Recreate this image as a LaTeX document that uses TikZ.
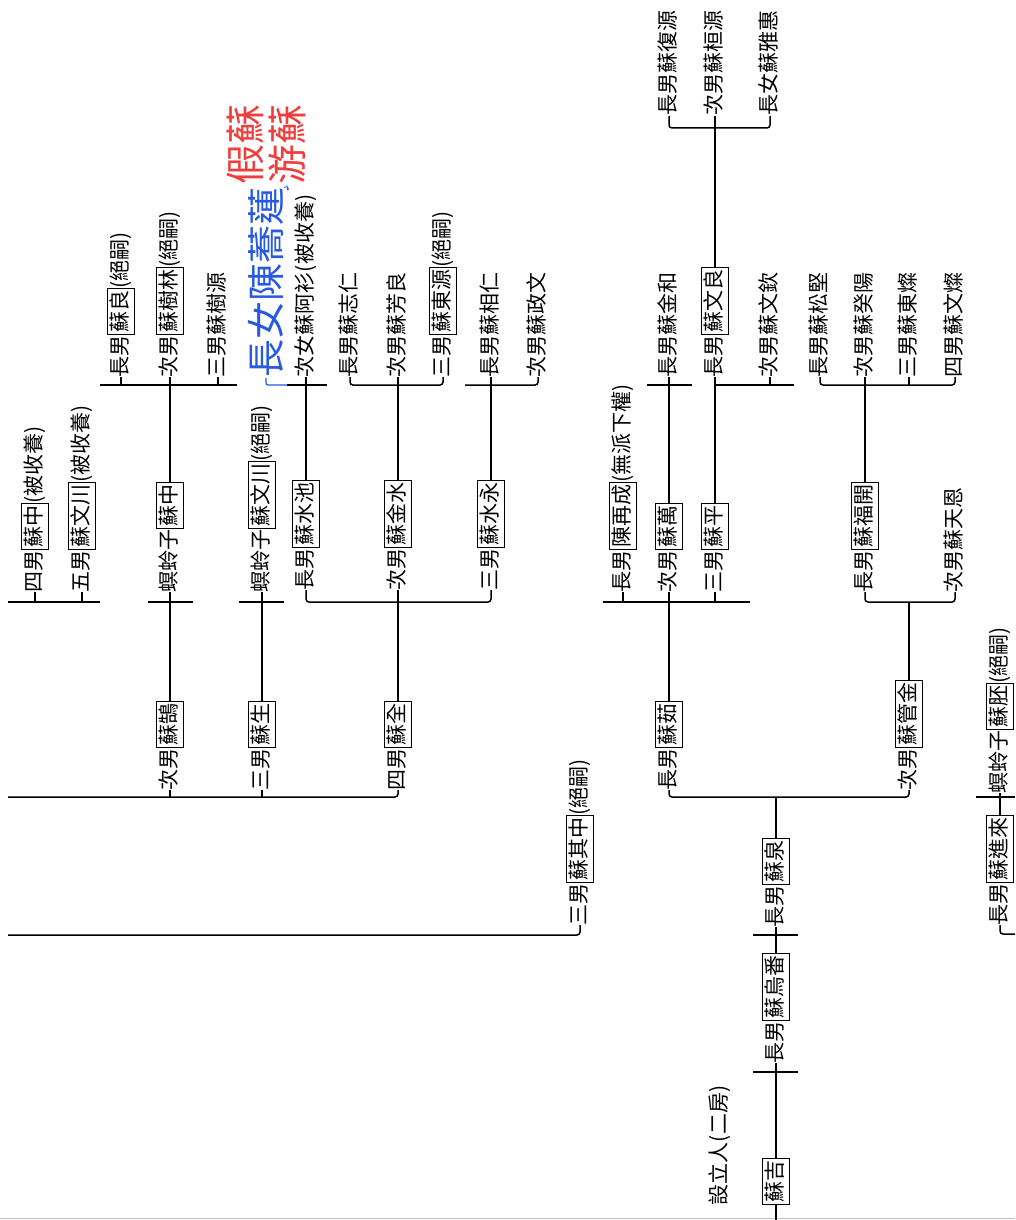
\documentclass[tikz,border=0pt]{standalone}
\usepackage{fontspec}
\newfontfamily\cjk{Noto Sans CJK TC}
\definecolor{pen}{RGB}{40,90,225}
\definecolor{redpen}{RGB}{238,62,62}
\newcommand\st{\rule[-0.22em]{0pt}{0.98em}}
\newcommand\bx[1]{{\fboxsep=1.6pt\fboxrule=0.8pt\fbox{\st#1}}}
\begin{document}
\begin{tikzpicture}[x=1pt,y=-1pt,
  lbl/.style={rotate=90,anchor=west,inner sep=0pt,outer sep=0pt,
    font=\cjk\fontsize{21}{21}\selectfont, execute at begin node=\st},
  bluetxt/.style={rotate=90,anchor=west,inner sep=0pt,text=pen,
    font=\cjk\fontsize{38}{38}\selectfont},
  redtxt/.style={rotate=90,anchor=west,inner sep=0pt,text=redpen,
    font=\cjk\fontsize{40}{40}\selectfont},
  ln/.style={line width=1.5pt},
  brk/.style={ln,rounded corners=3pt}]
\useasboundingbox[fill=white] (0,0) rectangle (1015,1220);
\coordinate (hA) at (0,128);
\coordinate (hB) at (0,385);
\coordinate (hC) at (0,602);
\coordinate (hD) at (0,797);
\coordinate (hE) at (0,935);
% ---------- row A
\node[lbl] (a1) at (669,116) {長男蘇復源};
\node[lbl] (a2) at (715,116) {次男蘇桓源};
\node[lbl] (a3) at (770,116) {長女蘇雅惠};
% ---------- row B
\node[lbl] (b1) at (121,377) {長男\bx{蘇良}(絕嗣)};
\node[lbl] (b2) at (170,377) {次男\bx{蘇樹林}(絕嗣)};
\node[lbl] (b3) at (218,377) {三男蘇樹源};
\node[bluetxt] (bb) at (266,378) {長女陳蕎蓮};
\node[redtxt] (r1) at (245,185) {假蘇};
\node[redtxt] (r2) at (287,185) {游蘇};
\node[lbl] (b4) at (306,377) {次女蘇阿衫(被收養)};
\node[lbl] (b5) at (350,377) {長男蘇志仁};
\node[lbl] (b6) at (398,377) {次男蘇芳良};
\node[lbl] (b7) at (443,377) {三男\bx{蘇東源}(絕嗣)};
\node[lbl] (b8) at (491,377) {長男蘇相仁};
\node[lbl] (b9) at (538,377) {次男蘇政文};
\node[lbl] (b10) at (669,377) {長男蘇金和};
\node[lbl] (b11) at (715,377) {長男\bx{蘇文良}};
\node[lbl] (b12) at (770,377) {次男蘇文欽};
\node[lbl] (b13) at (820,377) {長男蘇松堅};
\node[lbl] (b14) at (865,377) {次男蘇癸陽};
\node[lbl] (b15) at (909,377) {三男蘇東燦};
\node[lbl] (b16) at (955,377) {四男蘇文燦};
% ---------- row C
\node[lbl] (c1) at (35,592) {四男\bx{蘇中}(被收養)};
\node[lbl] (c2) at (82,592) {五男\bx{蘇文川}(被收養)};
\node[lbl] (c3) at (170,592) {螟蛉子\bx{蘇中}};
\node[lbl] (c4) at (262,592) {螟蛉子\bx{蘇文川}(絕嗣)};
\node[lbl] (c5) at (306,590) {長男\bx{蘇水池}};
\node[lbl] (c6) at (398,590) {次男\bx{蘇金水}};
\node[lbl] (c7) at (491,590) {三男\bx{蘇水永}};
\node[lbl] (c8) at (623,592) {長男\bx{陳再成}(無派下權)};
\node[lbl] (c9) at (669,592) {次男\bx{蘇萬}};
\node[lbl] (c10) at (715,592) {三男\bx{蘇平}};
\node[lbl] (c11) at (865,592) {長男\bx{蘇福開}};
\node[lbl] (c12) at (955,592) {次男蘇天恩};
% ---------- row D
\node[lbl] (d1) at (170,790) {次男\bx{蘇鵠}};
\node[lbl] (d2) at (262,790) {三男\bx{蘇生}};
\node[lbl] (d3) at (398,790) {四男\bx{蘇全}};
\node[lbl] (d4) at (669,790) {長男\bx{蘇茹}};
\node[lbl] (d5) at (909,790) {次男\bx{蘇管金}};
\node[lbl] (d6) at (1000,793) {螟蛉子\bx{蘇胚}(絕嗣)};
% ---------- row E
\node[lbl] (e1) at (580,925) {三男\bx{蘇其中}(絕嗣)};
\node[lbl] (e2) at (776,927) {長男\bx{蘇泉}};
\node[lbl] (e3) at (1000,925) {長男\bx{蘇進來}};
% ---------- row F
\node[lbl] (f1) at (776,1063) {長男\bx{蘇烏番}};
\node[lbl] (f2) at (720,1205) {設立人(二房)};
\node[lbl] (f3) at (776,1205) {\bx{蘇吉}};
% ---------- free ends
\coordinate (L1a) at (8,602);   \coordinate (L1b) at (100,602);
\coordinate (L2a) at (100,385); \coordinate (L2b) at (237,385);
\coordinate (X1a) at (148,602); \coordinate (X1b) at (193,602);
\coordinate (X2a) at (239,602); \coordinate (X2b) at (284,602);
\coordinate (W1a) at (287,385); \coordinate (W1b) at (327,385);
\coordinate (W3a) at (465,385);
\coordinate (LDa) at (8,797);
\coordinate (LEa) at (8,935);
\coordinate (M1a) at (603,602); \coordinate (M1b) at (750,602);
\coordinate (M2a) at (647,385); \coordinate (M2b) at (692,385);
\coordinate (M3b) at (794,385);
\coordinate (R1a) at (976,797); \coordinate (R1b) at (1015,797);
\coordinate (R2b) at (1015,934);
\coordinate (T1a) at (753,935); \coordinate (T1b) at (798,935);
\coordinate (T2a) at (753,1072); \coordinate (T2b) at (798,1072);
\coordinate (bot) at (776,1220);
\coordinate (edgeL) at (0,1218); \coordinate (edgeR) at (1015,1218);
\draw[black!25,line width=1pt] (edgeL) -- (edgeR);
% ---------- connectors
% left block
\draw[ln] (L1a) -- (L1b);
\draw[ln] (c1.west) -- (c1.west |- hC);
\draw[ln] (c2.west) -- (c2.west |- hC);
\draw[ln] (L2a) -- (L2b);
\draw[ln] (b1.west) -- (b1.west |- hB);
\draw[ln] (b3.west) -- (b3.west |- hB);
\draw[ln] (b2.west) -- (c3.east);
\draw[ln] (X1a) -- (X1b);
\draw[ln] (c3.west) -- (d1.east);
\draw[ln] (X2a) -- (X2b);
\draw[ln] (c4.west) -- (d2.east);
% 蘇全
\draw[brk] (c5.west) -- (c5.west |- hC) -- (c7.west |- hC) -- (c7.west);
\draw[ln] (c6.west) -- (d3.east);
% 蘇水池
\draw[ln] (W1a) -- (W1b);
\draw[ln] (b4.west) -- (c5.east);
\draw[pen,line width=1.3pt,rounded corners=2pt] (bb.west) -- (bb.west |- hB) -- (W1a);
\draw[pen,line width=0.7pt] (bb.south east) .. controls +(8,-4) and +(0,12) .. (r2.west);
% 蘇金水
\draw[brk] (b5.west) -- (b5.west |- hB) -- (b7.west |- hB) -- (b7.west);
\draw[ln] (b6.west) -- (c6.east);
% 蘇水永
\draw[brk] (W3a) -- (b9.west |- hB) -- (b9.west);
\draw[ln] (b8.west) -- (c7.east);
% left long bars
\draw[brk] (LDa) -- (d3.west |- hD) -- (d3.west);
\draw[ln] (d1.west) -- (d1.west |- hD);
\draw[ln] (d2.west) -- (d2.west |- hD);
\draw[brk] (LEa) -- (e1.west |- hE) -- (e1.west);
% 蘇泉
\draw[brk] (d4.west) -- (d4.west |- hD) -- (d5.west |- hD) -- (d5.west);
\draw[ln] (e2.east) -- (e2.east |- hD);
% 蘇茹
\draw[ln] (M1a) -- (M1b);
\draw[ln] (c8.west) -- (c8.west |- hC);
\draw[ln] (c10.west) -- (c10.west |- hC);
\draw[ln] (d4.east) -- (c9.west);
\draw[ln] (M2a) -- (M2b);
\draw[ln] (c9.east) -- (b10.west);
% 蘇平
\draw[ln] (c10.east) -- (b11.west);
\draw[ln] (b11.west |- hB) -- (M3b);
\draw[ln] (b12.west) -- (b12.west |- hB);
% 蘇文良
\draw[brk] (a1.west) -- (a1.west |- hA) -- (a3.west |- hA) -- (a3.west);
\draw[ln] (b11.east) -- (a2.west);
% 蘇福開
\draw[brk] (b13.west) -- (b13.west |- hB) -- (b16.west |- hB) -- (b16.west);
\draw[ln] (c11.east) -- (b14.west);
\draw[ln] (b15.west) -- (b15.west |- hB);
% 蘇管金
\draw[brk] (c11.west) -- (c11.west |- hC) -- (c12.west |- hC) -- (c12.west);
\draw[ln] (d5.east) -- (d5.east |- hC);
% right edge
\draw[ln] (R1a) -- (R1b);
\draw[ln] (d6.west) -- (e3.east);
\draw[brk] (e3.west) -- (e3.west |- R2b) -- (R2b);
% root chain
\draw[ln] (e2.west) -- (f1.east);
\draw[ln] (T1a) -- (T1b);
\draw[ln] (f1.west) -- (f3.east);
\draw[ln] (T2a) -- (T2b);
\draw[ln] (f3.west) -- (bot);
\end{tikzpicture}
\end{document}
